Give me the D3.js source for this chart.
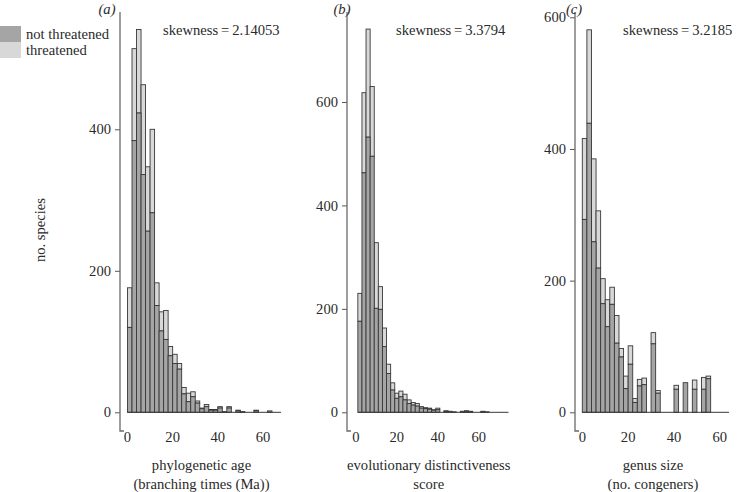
<!DOCTYPE html>
<html lang="en">
  <head>
    <meta charset="UTF-8" />
    <title>species histograms</title>
    <style>
      body { margin: 0; background: #fff; }
      text { font-family: "Liberation Serif", "Times New Roman", serif; fill: #2a2a2a; }
    </style>
  </head>
  <body>
    <svg width="742" height="492"></svg>
    <script src="https://d3js.org/d3.v7.min.js"></script>
    <script>
      // counts per 2-unit bin, dark = not threatened, light = threatened (stacked)
      var ageNot = [120, 384, 423, 336, 256, 282, 151, 115, 103, 80, 69, 61, 26, 15, 22, 13, 5, 8, 3, 3, 6, 1, 6, 0, 2, 1, 0, 0, 2, 0, 0, 2];
      var ageThr = [56, 130, 118, 127, 91, 118, 32, 27, 41, 13, 13, 8, 9, 12, 7, 3, 1, 3, 1, 1, 2, 0, 2, 0, 1, 0, 0, 0, 1, 0, 0, 0];

      var edNot = [176, 463, 532, 495, 201, 199, 127, 75, 43, 27, 30, 24, 17, 14, 12, 8, 7, 6, 4, 5, 0, 2, 2, 1, 0, 2, 2, 1, 0, 0, 1, 1];
      var edThr = [54, 155, 209, 135, 127, 44, 36, 18, 14, 10, 11, 11, 7, 5, 5, 3, 2, 2, 1, 3, 0, 1, 0, 0, 0, 0, 1, 1, 0, 0, 1, 0];

      var genusNot = [293, 439, 259, 219, 165, 130, 164, 105, 84, 36, 73, 15, 40, 42, 0, 104, 29, 0, 0, 0, 35, 0, 45, 0, 35, 0, 35, 51];
      var genusThr = [123, 142, 126, 87, 38, 41, 26, 42, 13, 19, 28, 6, 10, 10, 0, 17, 4, 0, 0, 0, 6, 0, 0, 0, 14, 0, 18, 4];

      var xTicks = [0, 20, 40, 60];
      var legendLabels = ["not threatened", "threatened"];

      var darkFill = "#a5a5a5", lightFill = "#d8d8d8";
      var fs = 14.6;
      var svg = d3.select("svg");

      var panels = [
        { tag: "(a)", tagX: 107, not: ageNot, thr: ageThr, start: 0, bin: 2,
          xDom: [0, 68], xRange: [127.5, 281], axisX: 120,
          yDom: [0, 400], yTicks: [0, 200, 400],
          skew: "skewness\u2009=\u20092.14053", skewX: 163,
          title: ["phylogenetic age", "(branching times (Ma))"] },
        { tag: "(b)", tagX: 342, not: edNot, thr: edThr, start: 1, bin: 2,
          xDom: [0, 74.5], xRange: [355.8, 508.5], axisX: 347,
          yDom: [0, 600], yTicks: [0, 200, 400, 600],
          skew: "skewness\u2009=\u20093.3794", skewX: 396,
          title: ["evolutionary distinctiveness", "score"] },
        { tag: "(c)", tagX: 574, not: genusNot, thr: genusThr, start: 0, bin: 2,
          xDom: [0, 64], xRange: [582.3, 729], axisX: 575,
          yDom: [0, 600], yTicks: [0, 200, 400, 600],
          skew: "skewness\u2009=\u20093.2185", skewX: 623,
          title: ["genus size", "(no. congeners)"] }
      ];
      var yRanges = [[412.3, 129.3], [412.3, 102], [412.3, 17.3]];

      panels.forEach(function(p, i) {
        var x = d3.scaleLinear().domain(p.xDom).range(p.xRange);
        var y = d3.scaleLinear().domain(p.yDom).range(yRanges[i]);
        var g = svg.append("g");

        var bins = p.not.map(function(n, k) {
          return { x0: p.start + k * p.bin, x1: p.start + (k + 1) * p.bin, not: n, thr: p.thr[k] };
        }).filter(function(d) { return d.not + d.thr > 0; });

        // threatened on top
        g.selectAll("rect.thr").data(bins).enter().append("rect")
          .attr("x", function(d) { return x(d.x0); })
          .attr("width", function(d) { return x(d.x1) - x(d.x0); })
          .attr("y", function(d) { return y(d.not + d.thr); })
          .attr("height", function(d) { return y(d.not) - y(d.not + d.thr); })
          .attr("fill", lightFill).attr("stroke", "#383838").attr("stroke-width", 0.9);

        g.selectAll("rect.not").data(bins).enter().append("rect")
          .attr("x", function(d) { return x(d.x0); })
          .attr("width", function(d) { return x(d.x1) - x(d.x0); })
          .attr("y", function(d) { return y(d.not); })
          .attr("height", function(d) { return y(0) - y(d.not); })
          .attr("fill", darkFill).attr("stroke", "#383838").attr("stroke-width", 0.9);

        // baseline
        g.append("line")
          .attr("x1", x(p.start)).attr("x2", x(p.xDom[1]))
          .attr("y1", y(0)).attr("y2", y(0))
          .attr("stroke", "#383838").attr("stroke-width", 1);

        // y axis
        var ax = g.append("g").attr("transform", "translate(" + p.axisX + ",0)")
          .call(d3.axisLeft(y).tickValues(p.yTicks).tickSize(5).tickPadding(4));
        ax.select(".domain").remove();
        ax.selectAll("line").attr("stroke", "#555");
        ax.selectAll("text").attr("font-size", fs).attr("fill", "#2a2a2a")
          .style("font-family", "'Liberation Serif', serif");

        g.append("path")
          .attr("d", "M" + p.axisX + ",12 V431 h4")
          .attr("fill", "none").attr("stroke", "#6a6a6a").attr("stroke-width", 1.3);

        // x tick labels (no tick marks)
        g.selectAll("text.xt").data(xTicks).enter().append("text")
          .attr("x", function(d) { return x(d); })
          .attr("y", 442)
          .attr("text-anchor", "middle").attr("font-size", fs)
          .text(function(d) { return d; });

        g.selectAll("text.tt").data(p.title).enter().append("text")
          .attr("x", (p.axisX + p.xRange[1]) / 2 + 1)
          .attr("y", function(d, k) { return 470 + k * 19; })
          .attr("text-anchor", "middle").attr("font-size", fs)
          .text(function(d) { return d; });

        g.append("text")
          .attr("x", p.tagX).attr("y", 14)
          .attr("text-anchor", "middle").attr("font-size", fs)
          .attr("font-style", "italic")
          .text(p.tag);

        g.append("text")
          .attr("x", p.skewX).attr("y", 35)
          .attr("font-size", fs)
          .text(p.skew);
      });

      // legend
      var leg = svg.append("g");
      leg.selectAll("rect").data(legendLabels).enter().append("rect")
        .attr("x", 0).attr("width", 21)
        .attr("y", function(d, k) { return 26 + k * 16; })
        .attr("height", 16)
        .attr("fill", function(d, k) { return k === 0 ? darkFill : lightFill; });
      leg.selectAll("text").data(legendLabels).enter().append("text")
        .attr("x", 26)
        .attr("y", function(d, k) { return 39 + k * 16; })
        .attr("font-size", fs)
        .text(function(d) { return d; });

      svg.append("text")
        .attr("transform", "translate(45,230) rotate(-90)")
        .attr("text-anchor", "middle").attr("font-size", fs)
        .text("no. species");
    </script>
  </body>
</html>
